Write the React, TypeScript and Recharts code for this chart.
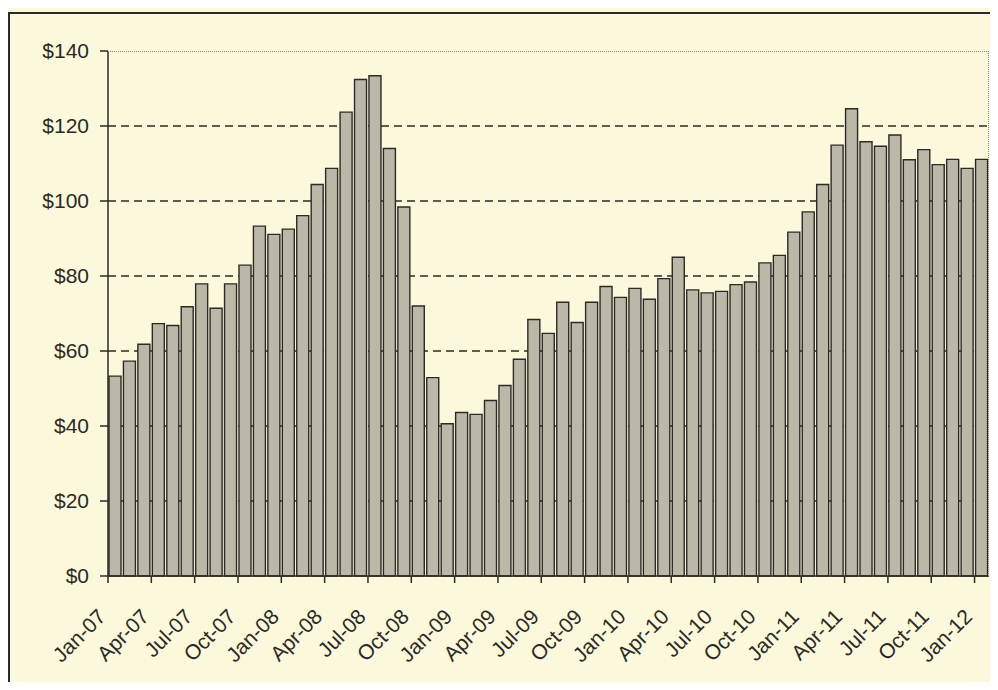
import { Bar, BarChart, XAxis, YAxis, CartesianGrid } from 'recharts';

const months = [
  'Jan-07', 'Feb-07', 'Mar-07', 'Apr-07', 'May-07', 'Jun-07', 'Jul-07', 'Aug-07', 'Sep-07', 'Oct-07', 'Nov-07', 'Dec-07',
  'Jan-08', 'Feb-08', 'Mar-08', 'Apr-08', 'May-08', 'Jun-08', 'Jul-08', 'Aug-08', 'Sep-08', 'Oct-08', 'Nov-08', 'Dec-08',
  'Jan-09', 'Feb-09', 'Mar-09', 'Apr-09', 'May-09', 'Jun-09', 'Jul-09', 'Aug-09', 'Sep-09', 'Oct-09', 'Nov-09', 'Dec-09',
  'Jan-10', 'Feb-10', 'Mar-10', 'Apr-10', 'May-10', 'Jun-10', 'Jul-10', 'Aug-10', 'Sep-10', 'Oct-10', 'Nov-10', 'Dec-10',
  'Jan-11', 'Feb-11', 'Mar-11', 'Apr-11', 'May-11', 'Jun-11', 'Jul-11', 'Aug-11', 'Sep-11', 'Oct-11', 'Nov-11', 'Dec-11',
  'Jan-12',
];

const prices = [
  53.3, 57.3, 61.8, 67.3, 66.8, 71.8, 77.9, 71.4, 77.9, 82.9, 93.3, 91.1,
  92.5, 96.1, 104.4, 108.7, 123.7, 132.4, 133.4, 114.0, 98.4, 72.0, 52.9, 40.6,
  43.6, 43.1, 46.8, 50.8, 57.8, 68.4, 64.7, 73.0, 67.6, 73.0, 77.2, 74.3,
  76.7, 73.8, 79.3, 85.0, 76.3, 75.5, 75.9, 77.7, 78.4, 83.5, 85.5, 91.7,
  97.1, 104.4, 114.9, 124.6, 115.8, 114.6, 117.6, 111.0, 113.7, 109.7, 111.1, 108.7,
  111.1,
];

const yTicks = [0, 20, 40, 60, 80, 100, 120, 140];
const gridValues = [20, 40, 60, 80, 100, 120];

const data = months.map((month, i) => ({ month, price: prices[i] }));

const W = 998;
const H = 690;
const PLOT_LEFT = 108;
const PLOT_TOP = 51;
const PLOT_RIGHT = 989;
const PLOT_BOTTOM = 576;
const BAND = (PLOT_RIGHT - PLOT_LEFT) / months.length;
const FONT = '"Liberation Sans", Arial, sans-serif';
const INK = '#2b2a26';

// Excel-style: tick mark on the category boundary, label hanging off it at 45deg
function MonthTick(props: any) {
  const { x, y, payload } = props;
  const left = x - BAND / 2;
  const tx = left - 1;
  const ty = y + 42;
  return (
    <g>
      <line x1={left} x2={left} y1={y} y2={y + 7} stroke={INK} strokeWidth={1.5} />
      <text
        x={tx}
        y={ty}
        transform={`rotate(-45, ${tx}, ${ty})`}
        textAnchor="end"
        fontSize={21}
        fontFamily={FONT}
        fill={INK}
      >
        {payload.value}
      </text>
    </g>
  );
}

export default function App() {
  return (
    <div style={{ margin: -8, width: W, height: H, background: '#fbf8dc', position: 'relative', overflow: 'hidden' }}>
      <div
        style={{
          position: 'absolute',
          left: 8,
          top: 12,
          width: 1000,
          height: 700,
          borderTop: `2px solid ${INK}`,
          borderLeft: `2px solid ${INK}`,
        }}
      />
      <div style={{ position: 'absolute', left: 0, top: 0 }}>
        <BarChart
          width={W}
          height={H}
          data={data}
          margin={{ top: PLOT_TOP, right: W - PLOT_RIGHT, bottom: 0, left: 0 }}
        >
          <CartesianGrid
            vertical={false}
            horizontalValues={gridValues}
            stroke={INK}
            strokeWidth={1.6}
            strokeDasharray="8 5"
          />
          <XAxis
            dataKey="month"
            interval={2}
            tickLine={false}
            tickSize={0}
            tickMargin={0}
            axisLine={{ stroke: INK, strokeWidth: 1.5 }}
            tick={<MonthTick />}
            height={H - PLOT_BOTTOM}
          />
          <YAxis
            domain={[0, 140]}
            ticks={yTicks}
            width={PLOT_LEFT}
            tickSize={8}
            tickMargin={11}
            tickFormatter={(v: number) => `$${v}`}
            axisLine={{ stroke: INK, strokeWidth: 1.5 }}
            tickLine={{ stroke: INK, strokeWidth: 1.5 }}
            tick={{ fill: INK, fontSize: 21, fontFamily: FONT }}
          />
          <Bar
            dataKey="price"
            fill="#bcb8a7"
            stroke={INK}
            strokeWidth={1.4}
            barSize={12}
            isAnimationActive={false}
          />
        </BarChart>
      </div>
      <div
        style={{
          position: 'absolute',
          left: PLOT_LEFT,
          top: PLOT_TOP,
          width: PLOT_RIGHT - PLOT_LEFT,
          height: PLOT_BOTTOM - PLOT_TOP,
          borderTop: '1px dotted #8a877c',
          borderRight: '1px dotted #8a877c',
          boxSizing: 'border-box',
          pointerEvents: 'none',
        }}
      />
    </div>
  );
}
